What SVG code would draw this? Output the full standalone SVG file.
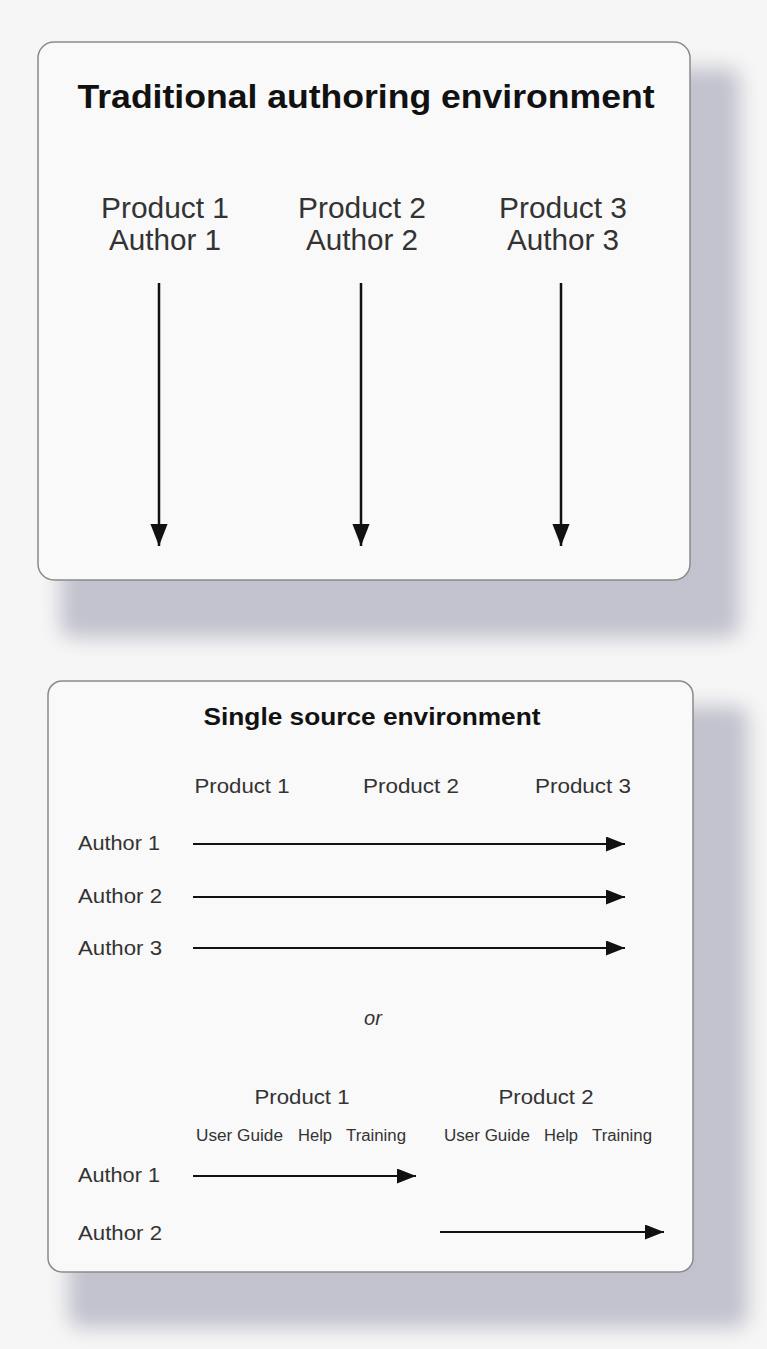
<svg xmlns="http://www.w3.org/2000/svg" width="767" height="1349" viewBox="0 0 767 1349">
<style>
text{font-family:"Liberation Sans",Arial,sans-serif;fill:#333}
.title{font-weight:bold;fill:#111}
.box{fill:#f9f9f9;stroke:#8a8a8a;stroke-width:1.5}
.shadow{fill:#c2c2ce}
.ln{stroke:#111;stroke-width:2.5;fill:none}
.ln2{stroke:#111;stroke-width:2;fill:none}
</style>
<defs>
<filter id="blur" x="-10%" y="-10%" width="120%" height="120%"><feGaussianBlur stdDeviation="10"/></filter>
<marker id="ah" viewBox="0 0 10 10" refX="10" refY="5" markerWidth="9" markerHeight="7" markerUnits="strokeWidth" orient="auto" preserveAspectRatio="none"><path d="M0,0 L10,5 L0,10 Z" fill="#111"/></marker>
<marker id="ah2" viewBox="0 0 10 10" refX="10" refY="5" markerWidth="9.5" markerHeight="7.5" markerUnits="strokeWidth" orient="auto" preserveAspectRatio="none"><path d="M0,0 L10,5 L0,10 Z" fill="#111"/></marker>
</defs>
<rect width="767" height="1349" fill="#f6f6f6"/>
<g id="box1">
<rect class="shadow" x="60" y="68" width="680" height="570" rx="14" filter="url(#blur)"/>
<rect class="box" x="38" y="42" width="652" height="538" rx="16"/>
<text class="title" x="366" y="108" font-size="33" text-anchor="middle" textLength="577" lengthAdjust="spacingAndGlyphs">Traditional authoring environment</text>
</g>
<g id="col1"><text x="165" y="218" font-size="29" text-anchor="middle" textLength="128" lengthAdjust="spacingAndGlyphs">Product 1</text><text x="165" y="250" font-size="29" text-anchor="middle" textLength="112" lengthAdjust="spacingAndGlyphs">Author 1</text></g>
<g id="col2"><text x="362" y="218" font-size="29" text-anchor="middle" textLength="128" lengthAdjust="spacingAndGlyphs">Product 2</text><text x="362" y="250" font-size="29" text-anchor="middle" textLength="112" lengthAdjust="spacingAndGlyphs">Author 2</text></g>
<g id="col3"><text x="563" y="218" font-size="29" text-anchor="middle" textLength="128" lengthAdjust="spacingAndGlyphs">Product 3</text><text x="563" y="250" font-size="29" text-anchor="middle" textLength="112" lengthAdjust="spacingAndGlyphs">Author 3</text></g>
<g id="box2">
<rect class="shadow" x="68" y="706" width="680" height="622" rx="14" filter="url(#blur)"/>
<rect class="box" x="48" y="681" width="645" height="591" rx="14"/>
<text class="title" x="372" y="725" font-size="23" text-anchor="middle" textLength="337" lengthAdjust="spacingAndGlyphs">Single source environment</text>
</g>
<g id="ss-products">
<text x="242" y="793" font-size="21" text-anchor="middle" textLength="95" lengthAdjust="spacingAndGlyphs">Product 1</text>
<text x="411" y="793" font-size="21" text-anchor="middle" textLength="96" lengthAdjust="spacingAndGlyphs">Product 2</text>
<text x="583" y="793" font-size="21" text-anchor="middle" textLength="96" lengthAdjust="spacingAndGlyphs">Product 3</text>
</g>
<g id="ss-authors">
<text x="78" y="850" font-size="21" textLength="82" lengthAdjust="spacingAndGlyphs">Author 1</text>
<text x="78" y="903" font-size="21" textLength="84" lengthAdjust="spacingAndGlyphs">Author 2</text>
<text x="78" y="955" font-size="21" textLength="84" lengthAdjust="spacingAndGlyphs">Author 3</text>
</g>
<g id="or"><text x="373" y="1025" font-size="20" font-style="italic" text-anchor="middle">or</text></g>
<g id="p1-group">
<text x="302" y="1104" font-size="21" text-anchor="middle" textLength="95" lengthAdjust="spacingAndGlyphs">Product 1</text>
<text x="196" y="1141" font-size="16" textLength="87" lengthAdjust="spacingAndGlyphs">User Guide</text>
<text x="298" y="1141" font-size="16" textLength="34" lengthAdjust="spacingAndGlyphs">Help</text>
<text x="346" y="1141" font-size="16" textLength="60" lengthAdjust="spacingAndGlyphs">Training</text>
</g>
<g id="p2-group">
<text x="546" y="1104" font-size="21" text-anchor="middle" textLength="95" lengthAdjust="spacingAndGlyphs">Product 2</text>
<text x="444" y="1141" font-size="16" textLength="86" lengthAdjust="spacingAndGlyphs">User Guide</text>
<text x="544" y="1141" font-size="16" textLength="34" lengthAdjust="spacingAndGlyphs">Help</text>
<text x="592" y="1141" font-size="16" textLength="60" lengthAdjust="spacingAndGlyphs">Training</text>
</g>
<g id="alt-authors">
<text x="78" y="1182" font-size="21" textLength="82" lengthAdjust="spacingAndGlyphs">Author 1</text>
<text x="78" y="1240" font-size="21" textLength="84" lengthAdjust="spacingAndGlyphs">Author 2</text>
</g>
<g id="connectors">
<line class="ln" x1="159" y1="283" x2="159" y2="546" marker-end="url(#ah)"/>
<line class="ln" x1="361" y1="283" x2="361" y2="546" marker-end="url(#ah)"/>
<line class="ln" x1="561" y1="283" x2="561" y2="546" marker-end="url(#ah)"/>
<line class="ln2" x1="193" y1="844" x2="625" y2="844" marker-end="url(#ah2)"/>
<line class="ln2" x1="193" y1="897" x2="625" y2="897" marker-end="url(#ah2)"/>
<line class="ln2" x1="193" y1="948" x2="625" y2="948" marker-end="url(#ah2)"/>
<line class="ln2" x1="193" y1="1176" x2="416" y2="1176" marker-end="url(#ah2)"/>
<line class="ln2" x1="440" y1="1232" x2="664" y2="1232" marker-end="url(#ah2)"/>
</g>
</svg>
